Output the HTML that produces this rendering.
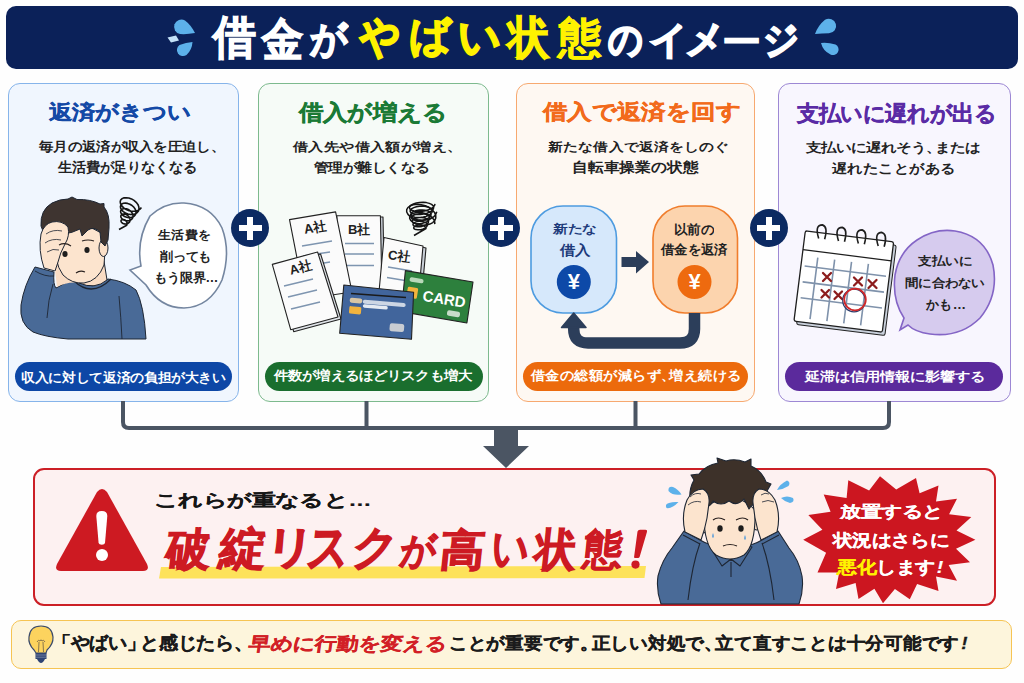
<!DOCTYPE html>
<html lang="ja"><head><meta charset="utf-8"><title>借金がやばい状態のイメージ</title>
<style>
*{margin:0;padding:0;box-sizing:border-box}
html,body{width:1024px;height:683px;overflow:hidden;background:#fefefe}
body{position:relative;font-family:"Liberation Sans",sans-serif;color:#1b1b1b}
.a{position:absolute}
.t{position:absolute;white-space:nowrap;line-height:1;font-weight:700}
.g{transform-origin:0 0}
.hdr{left:6px;top:6px;width:1012px;height:63px;border-radius:10px;background:#0b2159}
.pn{top:82.5px;height:319px;border-radius:12px;border:1.7px solid}
.p1{left:8px;width:231px;border-color:#86b4ea;background:#f0f6fe}
.p2{left:258px;width:231.3px;border-color:#7dba8e;background:#f6fbf7}
.p3{left:516px;width:239px;border-color:#f7a970;background:#fef8f2}
.p4{left:778.3px;width:232.4px;border-color:#9d88d4;background:#f8f6fe}
.pill{top:361.5px;height:29.5px;border-radius:15px}
.plus{top:209px;width:38px;height:38px;border-radius:50%;background:#0c2a62}
.plus:before,.plus:after{content:"";position:absolute;background:#fff}
.plus:before{left:7.5px;top:16px;width:23px;height:6px}
.plus:after{left:16px;top:7.5px;width:6px;height:23px}
</style></head>
<body>
<div class="a hdr"></div>
<div class="a pn p1"></div>
<div class="a pn p2"></div>
<div class="a pn p3"></div>
<div class="a pn p4"></div>
<div class="a" style="left:33px;top:467.5px;width:963px;height:138.5px;border:2.2px solid #cc1f26;border-radius:11px;background:#fdf1f1"></div>
<div class="a" style="left:11px;top:620px;width:1001px;height:49px;border:1.5px solid #f6c453;border-radius:10px;background:#fdf5dc"></div>
<div class="a pill" style="left:15px;width:217px;background:#0d47a6"></div>
<div class="a pill" style="left:265px;width:218px;background:#1a6e2e"></div>
<div class="a pill" style="left:523px;width:225px;background:#ec6a0c"></div>
<div class="a pill" style="left:785px;width:218px;background:#5b2a9c"></div>
<div class="a plus" style="left:231px"></div>
<div class="a plus" style="left:482px"></div>
<div class="a plus" style="left:749.5px"></div>
<svg class="a" style="left:0;top:0" width="1024" height="683">
<g fill="none" stroke="#4b5563" stroke-width="4" stroke-linejoin="round">
<path d="M123 401 V422 Q123 428 129 428 H883 Q889 428 889 422 V401"/>
<path d="M366.5 401 V428 M635.5 401 V428"/>
</g>
<path d="M494 428 H518 V446 H529 L506 468 L483 446 H494 Z" fill="#4b5563"/>
</svg>

<!-- illustrations -->
<svg class="a" style="left:0;top:0" width="1024" height="683" viewBox="0 0 1024 683">
<!-- header drops -->
<g fill="#5db1ea">
<path d="M195,33 Q187,34.5 180,34 A7.3,7.3 0 1 1 185,20.5 Q191,25 195,33 Z"/>
<path d="M192.5,42 Q192,50 186.5,55 A6,6 0 1 1 179.5,45 Q186,42.3 192.5,42 Z"/>
<path d="M167.5,37.5 L176,35.5 L179,40.5 L171,42.5 Z" fill="#c4e2f8"/>
<path d="M815,34 Q822,33.5 829,33.3 A7.3,7.3 0 1 0 825,19.8 Q818,25.5 815,34 Z"/>
<path d="M821,43 Q823,51 830.5,54.5 A5.3,5.3 0 1 0 835.5,44.5 Q828,42.3 821,43 Z"/>
</g>

<!-- ===== Panel 1 man ===== -->
<g stroke="#1e2633" stroke-width="1" stroke-linejoin="round">
<path d="M35,267 L54,272 Q53,285 56,288 Q66,281 77,280 Q92,292 108,279 Q125,281 136,290 Q144,305 146,339 L68,339 Q45,337 33,332 Q19,324 21,305 Q24,285 35,267 Z" fill="#496a97"/>
<path d="M35,271 Q45,277 54,276 M53,284 Q48,300 47,318 M119,296 Q121,318 122,339" fill="none" stroke-width="0.9"/>
<path d="M54,262 L57,287 Q68,281 80,283 L80,266 Z" fill="#f9dcc4" stroke="none"/>
<path d="M81,264 L104,261 L107,280 Q95,290 79,283 Z" fill="#f9dcc4"/>
<path d="M74,281 Q92,298 111,279" fill="none" stroke-width="1.3"/>
<path d="M55,232 Q53,262 63,275 Q72,284 84,283 Q98,281 104,265 L106,238 Q95,225 75,226 Z" fill="#fce4ce"/>
<ellipse cx="103.5" cy="248" rx="4.5" ry="8.5" fill="#fbe0c8"/>
<path d="M41,226 Q40,210 52,203 Q60,199 68,199 L72,197 L77,199.5 Q90,199 100,204 L104,203.5 L104,207 Q110,214 109,228 L108,240 L105,246 L101,242 L100,232 Q94,226 88,230 L82,236 L80,229 Q72,233 64,234 Q60,236 56,240 L48,244 Z" fill="#3e3430"/>
<path d="M44,268 Q38,250 41,234 Q44,224 52,222 Q62,220 68,227 Q70,236 65,244 Q60,253 58,262 L55,271 Z" fill="#fce4ce"/>
<path d="M46,234 Q53,229 62,231 M45,243 Q52,238 61,240 M47,252 Q53,248 59,250" fill="none" stroke-width="0.8"/>
</g>
<g fill="#1d1d1d"><ellipse cx="65" cy="254" rx="2.6" ry="3"/><ellipse cx="87" cy="250" rx="2.6" ry="3"/></g>
<path d="M59,245 Q65,242 71,246 M82,241 Q88,239 94,241 M76,273 Q80,270 85,272" stroke="#2a2220" stroke-width="1.2" fill="none"/>
<!-- spiral -->
<path d="M141.4,207.4 L140.0,209.2 L137.8,210.6 L135.1,211.2 L132.1,211.3 L129.1,210.7 L126.2,209.5 L123.7,207.9 L121.8,205.9 L120.6,203.9 L120.2,201.9 L120.6,200.1 L121.9,198.8 L123.7,197.9 L126.1,197.7 L128.8,198.0 L131.5,198.9 L134.0,200.4 L136.2,202.3 L137.9,204.4 L138.8,206.7 L139.0,208.9 L138.5,210.9 L137.2,212.6 L135.4,213.8 L133.1,214.4 L130.5,214.5 L127.9,214.0 L125.4,213.0 L123.3,211.6 L121.7,210.0 L120.7,208.3 L120.4,206.6 L120.8,205.2 L121.8,204.0 L123.4,203.3 L125.4,203.1 L127.6,203.4 L129.9,204.2 L132.0,205.5 L133.8,207.1 L135.1,209.0 L135.9,210.9 L136.0,212.8 L135.5,214.5 L134.5,215.9 L132.9,217.0 L131.0,217.5 L128.8,217.6 L126.7,217.3 L124.6,216.5 L122.9,215.4 L121.6,214.1 L120.8,212.7 L120.6,211.4 L120.9,210.2 L121.8,209.3 L123.1,208.7 L124.7,208.6 L126.5,208.8 L128.3,209.5 L130.0,210.6 L131.4,211.9 L132.4,213.5 L133.0,215.1 L133.0,216.7 L132.6,218.1 L131.7,219.3 L130.4,220.2 L128.9,220.7 L127.2,220.8 L125.5,220.6 L123.9,220.0 L122.5,219.2 L121.5,218.2 L120.9,217.1 L120.8,216.1 L121.1,215.2 L121.7,214.5 L122.8,214.1 L124.0,214.0 L125.3,214.3 L126.7,214.8 L127.9,215.7 L129.0,216.8 L129.7,218.0 L130.0,219.3 L130.0,220.5 L129.7,221.7 L128.9,222.7 L128.0,223.4 L126.8,223.8 L125.5,224.0 L124.3,223.9 L123.1,223.5 L122.2,223.0 L121.5,222.3 L121.1,221.5 L121.0,220.8 L121.2,220.2 L121.7,219.8 L122.4,219.5 L123.3,219.5 L124.2,219.7 L125.1,220.1 L125.9,220.8 L126.5,221.6 L127.0,222.5 L127.1,223.5 L127.0,224.4 L126.7,225.3 L119.0,229.5" fill="none" stroke="#141414" stroke-width="1.6" stroke-linejoin="round"/>
<!-- bubble 1 -->
<path d="M150,216 Q165,202 184,203 Q211,205 222,228 Q231,252 222,280 Q210,307 184,308 Q160,308 146,285 L130,270 L141,266 Q136,240 150,216 Z" fill="#fff" stroke="#7486a0" stroke-width="1.6"/>

<!-- ===== Panel 2 ===== -->
<g stroke="#222" stroke-width="1.1" stroke-linejoin="round">
<polygon points="339.5,217 383,217 384.5,292 341,292" fill="#c9d0d8"/>
<polygon points="336.8,215.7 380.4,215.7 382,292 338,292" fill="#fbfbfb"/>
</g>
<path d="M345,243.5 L374,243.5 M345,254 L374,254 M345,265.5 L374,265.5" stroke="#7e95b0" stroke-width="1.4"/>
<g stroke="#222" stroke-width="1.1" stroke-linejoin="round">
<polygon points="289.5,219.6 335.6,211.9 352,292 305,299" fill="#fbfbfb"/>
</g>
<path d="M302,246 L332,241 M303,256 L330,252 M306,266 L330,262" stroke="#7e95b0" stroke-width="1.4"/>
<g stroke="#222" stroke-width="1.1" stroke-linejoin="round">
<polygon points="387,238.5 426,248 421,303 382,293" fill="#c9d0d8"/>
<polygon points="384,237.5 423,246 418,302 379,292" fill="#fbfbfb"/>
</g>
<path d="M388,267 L412,271 M387,277.5 L411,281.5" stroke="#7e95b0" stroke-width="1.4"/>
<g stroke="#222" stroke-width="1.1" stroke-linejoin="round">
<polygon points="275,266.4 320.6,254 341,319 293.7,331.7" fill="#dfe3e8"/>
<polygon points="272.3,264.4 317.6,252 338,317 290.7,329.7" fill="#fbfbfb"/>
</g>
<path d="M284,286 L313,279 M288,297 L317,290 M291,309 L320,302" stroke="#7e95b0" stroke-width="1.4"/>
<g stroke="#222" stroke-width="1.1" stroke-linejoin="round">
<polygon points="405.4,270.6 473,282 466.9,323 401.3,311.6" fill="#2d803d"/>
</g>
<rect x="408" y="286.5" width="10.5" height="11" rx="1.5" fill="#f2b33d" transform="rotate(9 408 286.5)"/>
<rect x="410" y="277" width="14" height="4.5" rx="2" fill="#b9d8b9" transform="rotate(9 410 277)"/>
<rect x="447.5" y="310" width="13" height="5.5" rx="2" fill="#c8dcc8" transform="rotate(9 447.5 310)"/>
<g stroke="#222" stroke-width="1.1" stroke-linejoin="round">
<polygon points="343.8,285 413.6,292.2 411.5,339.3 339.7,333.2" fill="#41659c"/>
</g>
<path d="M351,293.5 L406,297.5" stroke="#1a1a1a" stroke-width="1.6"/>
<rect x="350" y="297.5" width="12.5" height="5" rx="2" fill="#d9c6a4" transform="rotate(5 350 297.5)"/>
<rect x="349.5" y="306" width="12" height="7.5" rx="1.5" fill="#f2b33d" transform="rotate(5 349.5 306)"/>
<rect x="363" y="299.5" width="43" height="4" rx="2" fill="#cdd6e4" transform="rotate(5 363 299.5)"/>
<rect x="363" y="304" width="25" height="3.5" rx="1.7" fill="#e6ebf2" transform="rotate(5 363 304)"/>
<rect x="390" y="323" width="14.5" height="8" rx="2" fill="#c8ccd2" transform="rotate(5 390 323)"/>
<!-- scribble -->
<g fill="none" stroke="#141414" stroke-width="1.5" stroke-linejoin="round"><path d="M435.0,203.9 L434.5,205.6 L433.1,207.3 L430.7,208.8 L427.7,210.1 L424.2,211.0 L420.6,211.4 L417.1,211.4 L414.0,211.0 L411.6,210.2 L410.0,209.1 L409.4,207.8 L409.8,206.4 L411.2,205.1 L413.4,203.9 L416.3,203.0 L419.6,202.5 L423.1,202.3 L426.4,202.6 L429.3,203.4 L431.6,204.4 L433.1,205.8 L433.7,207.4 L433.3,209.0 L431.9,210.6 L429.8,212.1 L427.0,213.2 L423.8,214.1 L420.4,214.5 L417.2,214.5 L414.3,214.1 L412.1,213.4 L410.7,212.4 L410.1,211.1 L410.5,209.9 L411.8,208.6 L413.8,207.6 L416.4,206.7 L419.5,206.2 L422.7,206.1 L425.7,206.4 L428.4,207.1 L430.5,208.1 L431.9,209.4 L432.4,210.9 L432.0,212.4 L430.8,213.9 L428.8,215.3 L426.2,216.4 L423.3,217.1 L420.2,217.5 L417.3,217.6 L414.7,217.2 L412.7,216.5 L411.3,215.6 L410.8,214.5 L411.2,213.3 L412.3,212.2 L414.2,211.2 L416.6,210.5 L419.4,210.0 L422.3,209.9 L425.1,210.2 L427.5,210.9 L429.4,211.8 L430.6,213.0 L431.1,214.4 L430.8,215.8 L429.6,217.2 L427.8,218.5 L425.5,219.5 L422.8,220.2 L420.1,220.6 L417.4,220.6 L415.0,220.3 L413.2,219.7 L412.0,218.8 L411.5,217.8 L411.8,216.8 L412.9,215.7 L414.6,214.8 L416.8,214.2 L419.3,213.8 L421.9,213.7 L424.4,214.0 L426.6,214.6 L428.3,215.5 L429.4,216.7 L429.8,217.9 L429.5,219.3 L428.5,220.5 L426.9,221.7 L424.8,222.6 L422.4,223.3 L419.9,223.7 L417.5,223.7 L415.4,223.4 L413.7,222.9 L412.7,222.1 L412.2,221.2 L412.5,220.2 L413.5,219.3 L415.0,218.5 L416.9,217.9 L419.1,217.6 L421.5,217.5 L423.7,217.8 L425.7,218.4 L427.2,219.2 L428.2,220.3 L428.5,221.4 L428.3,222.7 L427.3,223.9 L425.9,224.9 L424.0,225.8 L421.9,226.4 L419.7,226.7 L417.6,226.8 L415.7,226.5 L414.3,226.0 L413.3,225.3 L413.0,224.5 L413.2,223.6 L414.0,222.8 L415.4,222.1 L417.1,221.6 L419.0,221.3 L421.1,221.3 L423.0,221.6 L424.8,222.1 L426.1,222.9 L427.0,223.9 L427.3,225.0 L427.0,226.1 L426.2,227.2 L424.9,228.1 L423.3,228.9 L421.5,229.5 L419.5,229.8 L417.7,229.8 L416.1,229.6 L414.8,229.2 L414.0,228.6 L413.7,227.9 L413.9,227.1 L414.6,226.4 L415.7,225.8 L417.2,225.3 L418.9,225.1 L420.7,225.1 L422.4,225.4 L423.8,225.9 L425.0,226.6 L425.7,227.5 L426.0,228.5 L414,235.5"/><path d="M436.8,211.8 L435.6,214.7 L433.3,217.2 L430.0,219.0 L426.0,220.0 L421.7,220.3 L417.5,219.7 L413.5,218.5 L410.3,216.7 L408.0,214.4 L406.7,212.0 L406.7,209.6 L407.9,207.5 L410.2,205.8 L413.3,204.7 L417.1,204.3 L421.2,204.7 L425.3,205.8 L429.1,207.5 L432.2,209.8 L434.5,212.4 L435.7,215.2 L435.8,217.9 L434.8,220.5 L432.8,222.6 L429.9,224.1 L426.5,225.0 L422.7,225.3 L419.0,224.8 L415.6,223.8 L412.8,222.3 L410.7,220.4 L409.7,218.4 L409.7,216.5 L410.7,214.8 L412.7,213.4 L415.4,212.6 L418.7,212.3 L422.2,212.7 L425.8,213.7 L429.0,215.2 L431.7,217.1 L433.7,219.4 L434.7,221.8 L434.8,224.1"/></g>

<!-- ===== Panel 3 ===== -->
<rect x="531" y="206" width="85.5" height="107" rx="32" fill="#d6e8fb" stroke="#4d9be0" stroke-width="1.6"/>
<rect x="653" y="206" width="84.5" height="107" rx="32" fill="#fcd4ae" stroke="#f07d2c" stroke-width="1.6"/>
<circle cx="573.8" cy="282" r="17" fill="#0d49a8"/>
<circle cx="694.5" cy="282" r="17" fill="#ee6a0f"/>
<path d="M621.5,257 H636 V251 L649,262 L636,273.4 V267 H621.5 Z" fill="#2c3e5a"/>
<path d="M694.5,313 V329 Q694.5,343 680,343 H588 Q573.7,343 573.7,329 V326" fill="none" stroke="#2c3e5a" stroke-width="11.5"/>
<path d="M561.5,327.5 L586,327.5 L573.7,313 Z" fill="#2c3e5a" stroke="#2c3e5a" stroke-width="1.5" stroke-linejoin="round"/>

<!-- ===== Panel 4 ===== -->
<g transform="rotate(7.2 843.8 281.5)">
<rect x="802.3" y="239" width="89" height="91" rx="2" fill="#c9d0db" stroke="#222" stroke-width="1"/>
<rect x="799.3" y="236" width="89" height="91" rx="2" fill="#fff" stroke="#1e1e1e" stroke-width="1.3"/>
<line x1="799.3" y1="255" x2="888.3" y2="255" stroke="#1e1e1e" stroke-width="1.2"/>
<g stroke="#7f92ab" stroke-width="1.6">
<path d="M803,271 H885 M803,287 H885 M803,303 H885"/>
<path d="M815,261 V323 M832,261 V323 M849,261 V323 M866,261 V323"/>
</g>
<g fill="none" stroke="#1e1e1e" stroke-width="1.6">
<path d="M813.5,242 Q807.5,229 815.5,228 Q821.5,229 819.5,242"/>
<path d="M833.5,242 Q827.5,229 835.5,228 Q841.5,229 839.5,242"/>
<path d="M853.5,242 Q847.5,229 855.5,228 Q861.5,229 859.5,242"/>
<path d="M873.5,242 Q867.5,229 875.5,228 Q881.5,229 879.5,242"/>
</g>
</g>
<g stroke="#8c1c1c" stroke-width="2.3" stroke-linecap="round">
<path d="M823,273 L831,281 M831,273 L823,281"/>
<path d="M854,277.5 L862,285.5 M862,277.5 L854,285.5"/>
<path d="M868.5,280 L876.5,288 M876.5,280 L868.5,288"/>
<path d="M821.5,290 L829,297.5 M829,290 L821.5,297.5"/>
<path d="M834.5,291.5 L842,299 M842,291.5 L834.5,299"/>
</g>
<circle cx="854" cy="300.5" r="11.3" fill="none" stroke="#2a3a6a" stroke-width="1.2"/>
<circle cx="855" cy="299.5" r="10.8" fill="none" stroke="#d0282a" stroke-width="1.8"/>
<path d="M917,240 Q935,228 955,231 Q985,236 993,265 Q999,295 980,318 Q960,338 930,334 Q915,332 908,325 L900,330 L904,318 Q892,300 895,275 Q899,252 917,240 Z" fill="#d6cbee" stroke="#8465c6" stroke-width="1.6"/>

<!-- ===== Red box ===== -->
<path d="M97,492 Q102,486 107,492 L147,564 Q150,571 143,571 L61,571 Q54,571 57,564 Z" fill="#cd1a22"/>
<path d="M96.3,516 Q96.3,511 101.8,511 Q107.3,511 107.3,516 L105,543 Q104.6,544.8 101.8,544.8 Q99,544.8 98.6,543 Z" fill="#fff"/>
<circle cx="102" cy="555" r="6" fill="#fff"/>
<polygon points="161,567 646,566 644.5,578 159,578.6" fill="#fde25a"/>
<path d="M637.5,531.5 Q638,529.7 640,529.7 L645.5,529.7 Q647.6,529.7 647,531.7 L639.6,557 Q639.2,558 638,558 L635,558 Q633.8,558 634.1,556.8 Z" fill="#cd1a23"/>
<circle cx="635.5" cy="564.6" r="4.1" fill="#cd1a23"/>

<!-- red box man -->
<g stroke="#1e2633" stroke-width="1.1" stroke-linejoin="round">
<path d="M661,604 Q656,590 658,576 Q662,560 672,548 L684,531 L700,540 Q710,546 720,546 L742,546 Q752,546 762,540 L778,531 L789,548 Q799,560 802,576 Q804,590 799,604 Z" fill="#496a97"/>
<path d="M683,535 L700,544 M762,544 L779,535 M700,543 Q692,565 688,600 M762,543 Q770,565 774,600" fill="none"/>
<path d="M719,546 L744,546 L744,557 Q731,564 719,557 Z" fill="#f9dcc4"/>
<path d="M710,547 L719,544 L731,559 L722,566 Z M752,547 L743,544 L731,559 L740,566 Z" fill="#496a97"/>
<path d="M731,562 V577" fill="none"/>
<ellipse cx="703.5" cy="526" rx="4" ry="7" fill="#fbe0c8"/>
<ellipse cx="756.5" cy="523" rx="4" ry="7" fill="#fbe0c8"/>
<path d="M704,510 Q703,545 716,555 Q730,563 744,555 Q756,545 755,510 Q745,498 730,498 Q714,498 704,510 Z" fill="#fce4ce"/>
<path d="M693,514 Q686,494 694,480 L691,475 L699,474 Q706,465 718,463 L717,458 L726,461 Q735,458 745,462 L751,459 L751,466 Q762,471 766,482 L771,484 L767,491 Q770,504 763,519 L758,506 Q753,502 749,509 L744,499 Q737,507 729,501 Q721,507 713,501 Q709,509 704,505 L700,523 Z" fill="#3d3129"/>
<path d="M685,532 Q681,515 687,500 Q693,489 703,489 Q710,493 709,503 L707,518 Q705,529 701,540 Z" fill="#fce4ce"/>
<path d="M777,532 Q781,515 775,500 Q769,489 759,489 Q752,493 753,503 L755,518 Q757,529 761,540 Z" fill="#fce4ce"/>
<path d="M690,497 Q695,492 701,494 M688,505 Q694,500 701,502 M769,494 Q765,492 761,495 M774,502 Q768,499 762,502" fill="none" stroke-width="0.8"/>
</g>
<g fill="#1d1d1d"><ellipse cx="720" cy="528.5" rx="2.7" ry="3.2"/><ellipse cx="741" cy="528.5" rx="2.7" ry="3.2"/></g>
<path d="M713,520 Q718,516 725,520 M736,520 Q743,516 748,520 M723,546 Q730,543 737,546" stroke="#2a2220" stroke-width="1.2" fill="none"/>
<path d="M713,533 q-2,4 0,5 q2,-1 0,-5 Z M745,535 q-2,4 0,5 q2,-1 0,-5 Z" fill="#6fa7d8"/>
<g fill="#5db1ea">
<path d="M681.5,494.5 Q673,496 668.5,491 Q668,486 673,487 Q678,489 681.5,494.5 Z"/>
<path d="M678.5,502 Q672,509 666.5,508 Q664.5,504 669,503 Q673,501.5 678.5,502 Z"/>
<path d="M777,490 Q780,484 787,480.5 Q791,482 788.5,486 Q784,489 777,490 Z"/>
<path d="M781,498 Q787,495 793,498 Q795,502 790,503 Q785,502 781,498 Z"/>
</g>
<!-- starburst -->
<polygon points="808.3,515.0 830.6,511.7 823.7,494.6 846.6,497.9 848.3,480.3 869.1,490.5 880.0,476.2 896.2,489.6 916.0,478.0 919.6,493.3 938.5,485.4 936.0,501.5 957.0,498.7 949.1,514.2 971.3,517.0 956.5,530.6 975.4,539.7 956.0,548.7 970.0,562.3 948.6,565.1 957.0,580.7 936.0,576.6 938.5,591.0 917.1,584.0 909.8,599.2 894.9,588.9 883.0,603.3 874.4,588.8 858.5,599.0 855.6,583.1 836.0,589.0 839.2,572.5 817.5,572.5 826.1,552.8 803.2,539.7 822.4,529.8" fill="#cc1620"/>

<!-- bulb -->
<path d="M34,650 Q28,644 29,637 Q30,626 41,626 Q52,626 53,637 Q53.5,644 47,650 L46,653 L36,653 Z" fill="#fcd35e" stroke="#3a4a6a" stroke-width="1.2"/>
<path d="M38.5,652 L39,642 M43.5,652 L43,642 M37,642 Q38.5,639 40,641 Q41,638.5 42,641 Q43.5,639 45,642" fill="none" stroke="#7a6a4a" stroke-width="0.9"/>
<rect x="35.5" y="653" width="11" height="6" fill="#2f4473"/>
<path d="M35.5,655 H46.5 M35.5,657.2 H46.5" stroke="#9aa6c0" stroke-width="0.6"/>
<path d="M37,659 H45 Q43,663 41,663 Q39,663 37,659 Z" fill="#2f4473"/>
</svg>

<div class="t g" style="left:212.8px;top:15.2px;font-size:44px;color:#ffffff;-webkit-text-stroke:1.1px #ffffff;transform:scale(0.970,1.036)">借</div>
<div class="t g" style="left:261.9px;top:17.0px;font-size:44px;color:#ffffff;-webkit-text-stroke:1.4px #ffffff;transform:scale(0.933,1.024)">金</div>
<div class="t g" style="left:310.2px;top:20.0px;font-size:44px;color:#ffffff;-webkit-text-stroke:1.8px #ffffff;transform:scale(0.829,0.853)">が</div>
<div class="t g" style="left:360.4px;top:13.9px;font-size:44px;color:#fff200;-webkit-text-stroke:1.8px #fff200;transform:scale(0.900,1.024)">や</div>
<div class="t g" style="left:408.5px;top:15.3px;font-size:44px;color:#fff200;-webkit-text-stroke:1.8px #fff200;transform:scale(0.948,0.937)">ば</div>
<div class="t g" style="left:457.5px;top:14.8px;font-size:44px;color:#fff200;-webkit-text-stroke:2.0px #fff200;transform:scale(0.967,0.988)">い</div>
<div class="t g" style="left:508.0px;top:16.2px;font-size:44px;color:#fff200;-webkit-text-stroke:1.4px #fff200;transform:scale(0.924,1.012)">状</div>
<div class="t g" style="left:558.0px;top:17.2px;font-size:44px;color:#fff200;-webkit-text-stroke:0.7px #fff200;transform:scale(0.985,0.972)">態</div>
<div class="t g" style="left:608.3px;top:20.2px;font-size:44px;color:#ffffff;-webkit-text-stroke:2.2px #ffffff;transform:scale(0.782,0.889)">の</div>
<div class="t g" style="left:649.4px;top:20.7px;font-size:44px;color:#ffffff;-webkit-text-stroke:2.0px #ffffff;transform:scale(0.863,0.855)">イ</div>
<div class="t g" style="left:685.1px;top:20.4px;font-size:44px;color:#ffffff;-webkit-text-stroke:2.0px #ffffff;transform:scale(0.892,0.905)">メ</div>
<div class="t g" style="left:721.8px;top:24.7px;font-size:44px;color:#ffffff;-webkit-text-stroke:1.4px #ffffff;transform:scale(0.881,0.788)">ー</div>
<div class="t g" style="left:763.4px;top:20.5px;font-size:44px;color:#ffffff;-webkit-text-stroke:2.0px #ffffff;transform:scale(0.805,0.864)">ジ</div>
<div class="t g" style="left:49.3px;top:103.2px;font-size:24px;color:#1449a6;-webkit-text-stroke:0.5px #1449a6;transform:scale(0.963,0.819)">返済がきつい</div>
<div class="t g" style="left:299.0px;top:102.1px;font-size:24px;color:#1b7a36;-webkit-text-stroke:0.5px #1b7a36;transform:scale(1.007,0.900)">借入が増える</div>
<div class="t g" style="left:542.6px;top:102.3px;font-size:24px;color:#f26a1b;-webkit-text-stroke:0.5px #f26a1b;transform:scale(1.015,0.869)">借入で返済を回す</div>
<div class="t g" style="left:796.8px;top:102.8px;font-size:24px;color:#5a2ba5;-webkit-text-stroke:0.5px #5a2ba5;transform:scale(0.902,0.896)">支払いに遅れが出る</div>
<div class="t g" style="left:38.8px;top:139.9px;font-size:14px;color:#222222;transform:scale(1.022,0.913)">毎月の返済が収入を圧迫し、</div>
<div class="t g" style="left:58.3px;top:160.4px;font-size:14px;color:#222222;transform:scale(0.991,0.973)">生活費が足りなくなる</div>
<div class="t g" style="left:292.6px;top:140.5px;font-size:14px;color:#222222;transform:scale(1.100,0.873)">借入先や借入額が増え、</div>
<div class="t g" style="left:314.0px;top:161.4px;font-size:14px;color:#222222;transform:scale(1.032,0.907)">管理が難しくなる</div>
<div class="t g" style="left:547.5px;top:140.4px;font-size:14px;color:#222222;transform:scale(1.081,0.880)">新たな借入で返済をしのぐ</div>
<div class="t g" style="left:572.1px;top:160.3px;font-size:14px;color:#222222;transform:scale(1.129,1.007)">自転車操業の状態</div>
<div class="t g" style="left:805.8px;top:140.5px;font-size:14px;color:#222222;transform:scale(1.075,0.900)">支払いに遅れそう<span style="letter-spacing:-6px">、</span>または</div>
<div class="t g" style="left:831.7px;top:161.9px;font-size:14px;color:#222222;transform:scale(1.102,0.940)">遅れたことがある</div>
<div class="t g" style="left:20.9px;top:370.5px;font-size:14px;color:#ffffff;transform:scale(0.975,0.913)">収入に対して返済の負担が大きい</div>
<div class="t g" style="left:274.4px;top:369.4px;font-size:14px;color:#ffffff;transform:scale(1.010,0.907)">件数が増えるほどリスクも増大</div>
<div class="t g" style="left:530.7px;top:369.4px;font-size:14px;color:#ffffff;transform:scale(1.033,0.947)">借金の総額が減らず<span style="letter-spacing:-6px">、</span>増え続ける</div>
<div class="t g" style="left:804.7px;top:369.8px;font-size:14px;color:#ffffff;transform:scale(1.069,0.913)">延滞は信用情報に影響する</div>
<div class="t g" style="left:157.6px;top:227.7px;font-size:14px;color:#222222;transform:scale(0.947,0.880)">生活費を</div>
<div class="t g" style="left:159.8px;top:250.2px;font-size:14px;color:#222222;transform:scale(0.915,0.900)">削っても</div>
<div class="t g" style="left:153.6px;top:271.2px;font-size:14px;color:#222222;transform:scale(0.918,0.900)">もう限界…</div>
<div class="t g" style="left:552.7px;top:222.7px;font-size:15px;color:#1d3a7a;transform:scale(0.977,0.794)">新たな</div>
<div class="t g" style="left:559.5px;top:243.2px;font-size:15px;color:#1d3a7a;transform:scale(1.010,0.917)">借入</div>
<div class="t g" style="left:673.9px;top:222.7px;font-size:15px;color:#222222;transform:scale(0.886,0.847)">以前の</div>
<div class="t g" style="left:661.0px;top:243.2px;font-size:15px;color:#222222;transform:scale(0.887,0.859)">借金を返済</div>
<div class="t g" style="left:918.1px;top:255.4px;font-size:14px;color:#222222;transform:scale(0.978,0.864)">支払いに</div>
<div class="t g" style="left:905.1px;top:277.4px;font-size:14px;color:#222222;transform:scale(0.947,0.840)">間に合わない</div>
<div class="t g" style="left:925.8px;top:298.0px;font-size:14px;color:#222222;transform:scale(0.951,0.958)">かも…</div>
<div class="t g" style="left:153.5px;top:492.4px;font-size:22px;color:#151515;-webkit-text-stroke:0.3px #151515;transform:scale(1.062,0.750)">これらが重なると…</div>
<div class="t g" style="left:169.1px;top:526.6px;font-size:46px;color:#cd1a23;-webkit-text-stroke:1.4px #cd1a23;transform:skewX(-6deg) scale(0.953,0.967)">破</div>
<div class="t g" style="left:221.9px;top:525.8px;font-size:46px;color:#cd1a23;-webkit-text-stroke:1.0px #cd1a23;transform:skewX(-6deg) scale(1.019,0.981)">綻</div>
<div class="t g" style="left:267.5px;top:525.2px;font-size:46px;color:#cd1a23;-webkit-text-stroke:1.4px #cd1a23;transform:skewX(-6deg) scale(1.052,0.960)">リ</div>
<div class="t g" style="left:311.2px;top:521.4px;font-size:46px;color:#cd1a23;-webkit-text-stroke:1.4px #cd1a23;transform:skewX(-6deg) scale(0.892,1.137)">ス</div>
<div class="t g" style="left:355.1px;top:524.2px;font-size:46px;color:#cd1a23;-webkit-text-stroke:1.4px #cd1a23;transform:skewX(-6deg) scale(0.977,0.998)">ク</div>
<div class="t g" style="left:401.7px;top:531.2px;font-size:46px;color:#cd1a23;-webkit-text-stroke:1.4px #cd1a23;transform:skewX(-6deg) scale(0.767,0.818)">が</div>
<div class="t g" style="left:442.9px;top:529.3px;font-size:46px;color:#cd1a23;-webkit-text-stroke:1.4px #cd1a23;transform:skewX(-6deg) scale(0.967,0.929)">高</div>
<div class="t g" style="left:493.5px;top:524.8px;font-size:46px;color:#cd1a23;-webkit-text-stroke:1.4px #cd1a23;transform:skewX(-6deg) scale(0.803,1.006)">い</div>
<div class="t g" style="left:538.2px;top:527.4px;font-size:46px;color:#cd1a23;-webkit-text-stroke:1.4px #cd1a23;transform:skewX(-6deg) scale(0.880,0.970)">状</div>
<div class="t g" style="left:586.3px;top:528.3px;font-size:46px;color:#cd1a23;-webkit-text-stroke:0.8px #cd1a23;transform:skewX(-6deg) scale(0.852,0.913)">態</div>
<div class="t g" style="left:840.0px;top:503.9px;font-size:20px;color:#ffffff;-webkit-text-stroke:0.2px #ffffff;transform:scale(1.026,0.781)">放置すると</div>
<div class="t g" style="left:832.9px;top:531.5px;font-size:20px;color:#ffffff;-webkit-text-stroke:0.2px #ffffff;transform:scale(0.965,0.833)">状況はさらに</div>
<div class="t g" style="left:837.0px;top:559.2px;font-size:20px;color:#ffffff;-webkit-text-stroke:0.2px #ffffff;transform:scale(0.978,0.829)"><span style="color:#fff200;-webkit-text-stroke-color:#fff200">悪化</span>します<i style="margin-left:2px">!</i></div>
<div class="t g" style="left:51.9px;top:634.0px;font-size:18px;color:#1b1b1b;-webkit-text-stroke:0.3px #1b1b1b;transform:scale(1.039,0.983)">「やばい<span style="letter-spacing:-5px">」</span>と感じたら、</div>
<div class="t g" style="left:250.1px;top:634.6px;font-size:18px;color:#d21f26;-webkit-text-stroke:0.2px #d21f26;transform:skewX(-8deg) scale(1.224,1.021)">早めに行動を変える</div>
<div class="t g" style="left:448.9px;top:634.5px;font-size:18px;color:#1b1b1b;-webkit-text-stroke:0.3px #1b1b1b;transform:scale(1.041,0.955)">ことが重要です<span style="letter-spacing:-7px">。</span>正しい対処で<span style="letter-spacing:-7px">、</span>立て直すことは十分可能です<i style="margin-left:2px">!</i></div>
<div class="t" style="left:303px;top:223px;font-size:13px;color:#222;transform:rotate(-9deg);transform-origin:0 0">A社</div>
<div class="t" style="left:348px;top:223px;font-size:13px;color:#222">B社</div>
<div class="t" style="left:389px;top:248px;font-size:13px;color:#222;transform:rotate(8deg);transform-origin:0 0">C社</div>
<div class="t" style="left:288px;top:264px;font-size:13px;color:#222;transform:rotate(-14deg);transform-origin:0 0">A社</div>
<div class="t" style="left:424px;top:288px;font-size:15px;color:#fff;transform:rotate(9deg);transform-origin:0 0">CARD</div>
<div class="t" style="left:556.8px;top:271px;width:34px;text-align:center;font-size:22px;color:#fff">¥</div>
<div class="t" style="left:677.5px;top:271px;width:34px;text-align:center;font-size:22px;color:#fff">¥</div>

</body></html>
